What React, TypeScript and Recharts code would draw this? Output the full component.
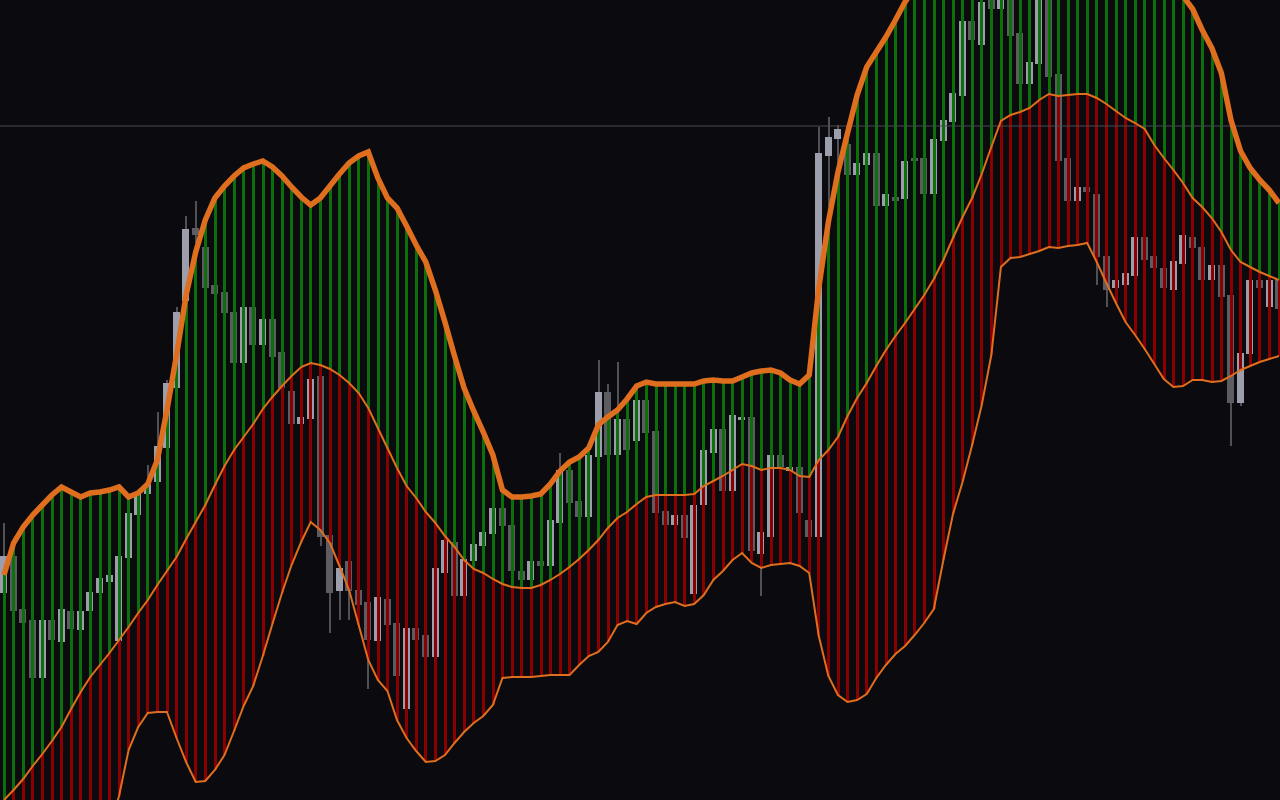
import React from "react";
import { ComposedChart, Bar, Line, XAxis, YAxis, ReferenceLine } from "recharts";

// Price series (points), one value per bar, left to right
const upperBand = [225,257,273,285,295,305,313,308,303,307,308,310,313,303,307,316,340,390,445,505,548,580,602,614,624,632,636,639,633,624,613,603,595,602,614,626,637,644,648,622,602,592,574,555,538,510,478,444,412,389,368,345,310,303,303,304,306,316,329,338,343,352,375,383,390,401,414,418,416,416,416,416,416,419,420,419,419,423,427,429,430,427,420,416,425,512,578,628,667,705,733,748,763,780,798,812,824,834,843,850,856,861,865,868,870,871,871,870,868,866,863,860,857,854,850,846,842,837,832,827,822,816,810,804,791,770,752,727,680,649,632,620,610,597];
const middleBand = [0,10,21,34,46,59,73,91,108,123,135,147,160,173,187,200,215,229,243,261,278,295,315,334,350,363,376,391,403,414,424,433,437,435,431,425,417,407,392,372,352,332,314,302,288,277,264,253,240,231,227,221,216,213,212,212,215,220,226,233,241,250,260,272,282,288,296,303,305,305,305,305,306,314,319,324,330,336,334,330,332,332,330,324,323,340,350,363,384,402,417,434,450,464,477,491,505,521,540,562,583,602,626,653,679,685,688,692,700,706,704,705,706,706,702,696,689,682,677,671,655,642,630,617,602,593,582,568,550,538,533,528,524,520];
const lowerBand = [-115,-120,-125,-130,-135,-135,-130,-120,-105,-85,-60,-30,4,50,73,87,88,88,62,38,18,19,30,45,69,94,114,144,176,207,235,258,278,270,257,234,210,175,140,120,109,80,62,49,38,39,45,57,68,77,84,95,122,123,123,123,124,125,125,125,135,144,148,158,175,179,176,187,193,196,198,194,196,205,220,229,240,247,237,232,235,236,237,234,227,164,124,105,98,100,106,122,135,146,154,165,177,191,240,286,318,355,395,445,533,542,543,546,549,553,552,554,555,557,538,517,497,478,465,451,436,421,413,414,420,420,418,419,424,430,434,438,441,444];

const openPrice = [207,244,191,180,122,180,158,189,170,189,207,218,159,242,285,306,318,352,412,499,572,553,515,508,488,437,493,455,481,448,409,376,381,424,265,209,239,210,198,159,201,177,91,172,165,143,227,258,204,239,254,266,292,275,229,220,239,234,277,330,299,283,343,408,345,381,359,400,369,289,275,285,206,295,347,371,309,380,383,246,263,345,329,333,280,263,644,661,656,625,635,647,594,603,601,642,642,606,659,678,704,779,755,808,791,805,767,716,736,803,726,642,599,613,606,544,512,515,524,563,544,532,510,536,563,553,520,535,505,397,446,520,493,521];
const highPrice = [277,248,194,183,183,183,194,192,192,211,225,228,247,290,309,335,388,420,493,584,599,556,518,511,491,496,496,484,484,451,412,386,424,427,268,235,242,213,201,206,204,180,175,175,168,235,263,261,244,259,271,295,295,278,232,242,242,283,347,333,302,348,440,416,438,384,403,403,372,292,288,288,298,353,374,374,388,386,386,271,348,348,336,336,283,673,683,675,659,640,650,650,609,606,642,645,645,664,683,710,782,782,801,811,811,808,770,741,805,806,729,645,616,616,609,547,523,530,566,566,547,535,542,568,566,556,538,538,508,450,523,523,523,524];
const lowPrice = [204,186,174,119,119,157,155,168,167,186,204,215,156,239,282,303,315,349,409,496,557,509,503,484,434,434,452,452,440,409,373,373,378,254,167,180,180,192,111,156,172,121,88,157,140,140,224,201,201,236,251,263,271,226,217,217,231,231,274,294,280,280,340,342,342,347,356,364,284,272,272,259,203,292,344,306,306,377,246,204,260,330,326,284,260,260,593,625,622,622,632,591,591,596,598,636,603,603,656,675,701,757,752,788,788,761,713,713,733,720,636,596,596,605,515,493,509,512,521,537,529,509,507,533,549,517,517,500,354,394,443,509,490,488];
const closePrice = [244,189,177,122,180,160,191,171,189,208,222,225,244,287,306,316,354,417,488,571,565,512,506,487,437,493,455,481,443,412,376,383,421,263,207,232,209,195,160,203,175,124,172,160,143,232,260,204,241,256,268,292,274,229,220,239,234,280,330,297,283,345,408,345,381,350,400,367,287,275,285,262,295,350,371,309,385,383,249,268,345,333,333,287,263,647,663,671,625,637,647,594,606,599,639,639,606,661,680,707,779,760,798,791,808,764,716,738,802,723,639,599,613,608,543,510,520,527,563,540,532,512,539,565,552,520,535,503,397,447,520,512,520,491];

const refLevel = 674;

const data = upperBand.map((u, i) => ({
  i,
  upper: u,
  middle: middleBand[i],
  lower: lowerBand[i],
  open: openPrice[i],
  high: highPrice[i],
  low: lowPrice[i],
  close: closePrice[i],
}));

const BG = "#0a0a0f";
const ORANGE = "#df6e1e";
const GREEN = "#0b700b";
const RED = "#8a0000";
const CANDLE_UP = "#9c9fab";
const CANDLE_DOWN = "#5c5c62";
const WICK = "#505057";

const makeStick = (w: number, colorFn: (p: any) => string) => (props: any) => {
  const { x, y, width, height, payload } = props;
  if (x == null || y == null || height == null || isNaN(height)) return <g />;
  const top = height < 0 ? y + height : y;
  const h = Math.max(Math.abs(height), 1);
  const cx = x + width / 2;
  return (
    <rect
      x={cx - w / 2}
      y={top}
      width={w}
      height={h}
      fill={colorFn(payload)}
      shapeRendering="crispEdges"
    />
  );
};

const WickShape = makeStick(2, () => WICK);
const BodyShape = makeStick(7, (p) => (p.close >= p.open ? CANDLE_UP : CANDLE_DOWN));
const GreenShape = makeStick(3, () => GREEN);
const RedShape = makeStick(3, () => RED);

const X_DOMAIN: [number, number] = [-0.4173, 133.115];

export default function App() {
  const axisIds = [0, "w", "b", "g", "r"];
  return (
    <div style={{ position: "fixed", left: 0, top: 0, width: 1280, height: 800, background: BG, overflow: "hidden" }}>
      <ComposedChart width={1280} height={800} data={data} margin={{ top: 0, right: 0, bottom: 0, left: 0 }}>
        {axisIds.map((id) => (
          <XAxis key={String(id)} xAxisId={id} dataKey="i" type="number" domain={X_DOMAIN} allowDataOverflow hide />
        ))}
        <YAxis type="number" domain={[0, 800]} allowDataOverflow hide />
        <ReferenceLine y={refLevel} stroke="#4a4a55" strokeWidth={1} ifOverflow="hidden" />
        <Bar xAxisId="w" dataKey={(d: any) => [d.low, d.high]} shape={WickShape} barSize={6} isAnimationActive={false} />
        <Bar
          xAxisId="b"
          dataKey={(d: any) => [Math.min(d.open, d.close), Math.max(d.open, d.close)]}
          shape={BodyShape}
          barSize={7}
          isAnimationActive={false}
        />
        <Bar xAxisId="g" dataKey={(d: any) => [d.middle, d.upper]} shape={GreenShape} barSize={6} isAnimationActive={false} />
        <Bar xAxisId="r" dataKey={(d: any) => [d.lower, d.middle]} shape={RedShape} barSize={6} isAnimationActive={false} />
        <Line type="linear" dataKey="middle" stroke={ORANGE} strokeWidth={2} dot={false} activeDot={false} isAnimationActive={false} />
        <Line type="linear" dataKey="lower" stroke={ORANGE} strokeWidth={2} dot={false} activeDot={false} isAnimationActive={false} />
        <Line type="linear" dataKey="upper" stroke={ORANGE} strokeWidth={5.5} dot={false} activeDot={false} isAnimationActive={false} />
      </ComposedChart>
    </div>
  );
}
